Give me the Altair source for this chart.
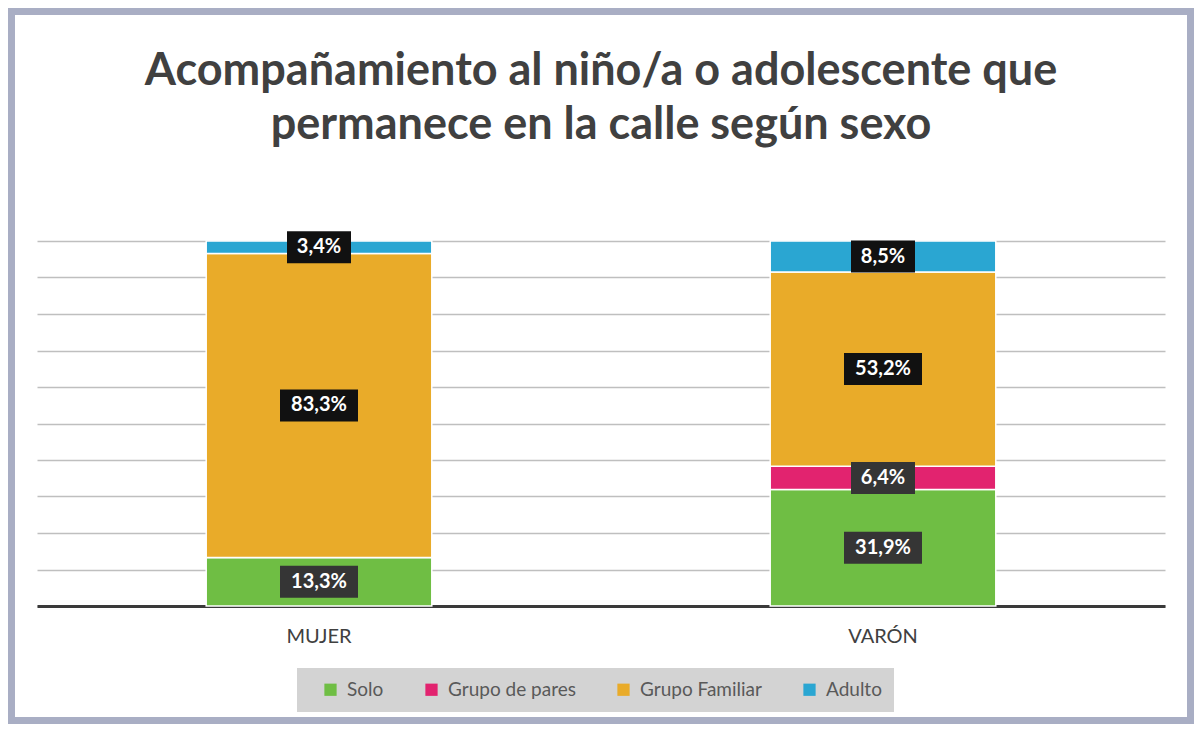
import altair as alt
import pandas as pd

sexo = ["MUJER", "VARÓN"]
grupos = ["Solo", "Grupo de pares", "Grupo Familiar", "Adulto"]
colores = ["#6fbe44", "#e2236f", "#e9ab29", "#2aa6d2"]
solo = [13.3, 31.9]
pares = [0.0, 6.4]
familiar = [83.3, 53.2]
adulto = [3.4, 8.5]

series = [solo, pares, familiar, adulto]
rows = []
for gi, (g, vals) in enumerate(zip(grupos, series)):
    for s, v in zip(sexo, vals):
        rows.append({"sexo": s, "grupo": g, "orden": gi, "valor": v,
                     "label": f"{v:.1f}".replace(".", ",") + "%"})
df = pd.DataFrame(rows)

W, H = 1128, 365
PL, PT, PR, PB = 29, 233, 29, 118
FONT = "Lato"

base = alt.Chart(df)

x_axis = alt.Axis(labelAngle=0, labelFontSize=20, labelColor="#404040",
                  labelFont=FONT, labelPadding=20, ticks=False,
                  domainColor="#3a3a3a", domainWidth=3, grid=False)
x_scale = alt.Scale(paddingInner=0.6, paddingOuter=0.3)
y_axis = alt.Axis(values=list(range(0, 101, 10)), labels=False, ticks=False,
                  domain=False, gridColor="#bfbfbf", gridWidth=1.5)
y_scale = alt.Scale(domain=[0, 100], nice=False)

bars = base.mark_bar(stroke="white", strokeWidth=1.5).encode(
    x=alt.X("sexo:N", sort=sexo, title=None, scale=x_scale, axis=x_axis),
    y=alt.Y("valor:Q", stack="zero", title=None, scale=y_scale, axis=y_axis),
    color=alt.Color("grupo:N", sort=grupos,
                    scale=alt.Scale(domain=grupos, range=colores),
                    legend=alt.Legend(title=" ", titleOrient="left", titlePadding=12,
                                      orient="none", direction="horizontal",
                                      legendX=260, legendY=427,
                                      fillColor="#d3d3d3", padding=12,
                                      columnPadding=38, labelOffset=7,
                                      labelFontSize=19, labelColor="#595959", labelFont=FONT,
                                      symbolType="square",
                                      symbolSize=150, symbolStrokeWidth=0)),
    order=alt.Order("orden:Q", sort="ascending"),
)

lab = base.transform_filter("datum.valor > 0").transform_stack(
    stack="valor", as_=["y0", "y1"], groupby=["sexo"],
    sort=[alt.SortField("orden", order="ascending")]
).transform_calculate(
    mid="(datum.y0 + datum.y1) / 2",
    w="14 * length(datum.label) + 8",
).transform_calculate(
    sz="datum.w * datum.w",
    shp="'M-1,-' + (32 / datum.w) + 'L1,-' + (32 / datum.w) + 'L1,' + (32 / datum.w) + 'L-1,' + (32 / datum.w) + 'Z'",
)

boxes = lab.mark_point(filled=True, opacity=1, strokeWidth=0).encode(
    x=alt.X("sexo:N", sort=sexo, title=None, scale=x_scale, axis=x_axis),
    y=alt.Y("mid:Q", title=None, scale=y_scale, axis=y_axis),
    size=alt.Size("sz:Q", scale=None, legend=None),
    shape=alt.Shape("shp:N", scale=None, legend=None),
    color=alt.condition("datum.orden <= 1", alt.value("#353535"), alt.value("#111111")),
)

texts = lab.mark_text(color="white", fontSize=20, fontWeight="bold", font=FONT,
                      baseline="middle").encode(
    x=alt.X("sexo:N", sort=sexo, title=None, scale=x_scale, axis=x_axis),
    y=alt.Y("mid:Q", title=None, scale=y_scale, axis=y_axis),
    text="label:N",
)

frame = alt.Chart(pd.DataFrame({"a": [0]})).mark_rect(
    filled=False, stroke="#a9aec4", strokeWidth=14
).encode(
    x=alt.value(-PL), x2=alt.value(W + PR),
    y=alt.value(-PT), y2=alt.value(H + PB),
)

chart = alt.layer(bars, boxes, texts, frame).properties(
    width=W, height=H,
    autosize=alt.AutoSizeParams(type="none"),
    padding={"left": PL, "top": PT, "right": PR, "bottom": PB},
    title=alt.Title(["Acompañamiento al niño/a o adolescente que",
                     "permanece en la calle según sexo"],
                    fontSize=45, font=FONT, fontWeight="bold", color="#404040",
                    anchor="middle", frame="group", offset=-147, lineHeight=54),
).configure(background="white").configure_view(strokeWidth=0, stroke="transparent")

chart.save("out.html", embed_options={"renderer": "svg", "actions": False})
